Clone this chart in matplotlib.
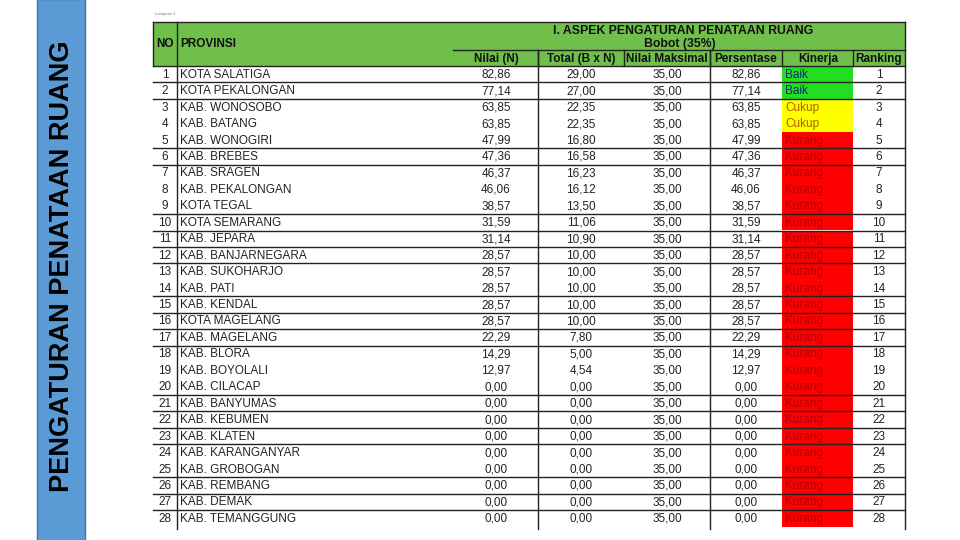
import matplotlib.pyplot as plt
from matplotlib.patches import Rectangle

plt.rcParams['font.family'] = ['Liberation Sans', 'DejaVu Sans']

provinsi = ['KOTA SALATIGA', 'KOTA PEKALONGAN', 'KAB. WONOSOBO', 'KAB. BATANG',
            'KAB. WONOGIRI', 'KAB. BREBES', 'KAB. SRAGEN', 'KAB. PEKALONGAN',
            'KOTA TEGAL', 'KOTA SEMARANG', 'KAB. JEPARA', 'KAB. BANJARNEGARA',
            'KAB. SUKOHARJO', 'KAB. PATI', 'KAB. KENDAL', 'KOTA MAGELANG',
            'KAB. MAGELANG', 'KAB. BLORA', 'KAB. BOYOLALI', 'KAB. CILACAP',
            'KAB. BANYUMAS', 'KAB. KEBUMEN', 'KAB. KLATEN', 'KAB. KARANGANYAR',
            'KAB. GROBOGAN', 'KAB. REMBANG', 'KAB. DEMAK', 'KAB. TEMANGGUNG']
nilai = [82.86, 77.14, 63.85, 63.85, 47.99, 47.36, 46.37, 46.06, 38.57, 31.59,
         31.14, 28.57, 28.57, 28.57, 28.57, 28.57, 22.29, 14.29, 12.97, 0, 0, 0,
         0, 0, 0, 0, 0, 0]
total = [29.00, 27.00, 22.35, 22.35, 16.80, 16.58, 16.23, 16.12, 13.50, 11.06,
         10.90, 10.00, 10.00, 10.00, 10.00, 10.00, 7.80, 5.00, 4.54, 0, 0, 0,
         0, 0, 0, 0, 0, 0]
nilai_maks = [35.00] * 28
persentase = nilai
kinerja = ['Baik', 'Baik', 'Cukup', 'Cukup'] + ['Kurang'] * 24
ranking = list(range(1, 29))
sub_headers = ['Nilai (N)', 'Total (B x N)', 'Nilai Maksimal', 'Persentase', 'Kinerja', 'Ranking']
# rows followed by a border line
line_after = [1, 2, 5, 6, 9, 10, 11, 12, 14, 15, 16, 17, 20, 21, 22, 23, 25, 26, 27]

kin_fill = {'Baik': '#22dd22', 'Cukup': '#ffff00', 'Kurang': '#ff0000'}
kin_text = {'Baik': '#1a237e', 'Cukup': '#b05a00', 'Kurang': '#b00000'}


def fmt(v):
    return f'{v:.2f}'.replace('.', ',')


fig = plt.figure(figsize=(9.6, 5.4), dpi=100)
ax = fig.add_axes([0, 0, 1, 1])
ax.set_xlim(0, 960)
ax.set_ylim(540, 0)
ax.axis('off')

# side strip
ax.add_patch(Rectangle((37, -1), 48, 542, facecolor='#5b9bd5', edgecolor='#41719c', lw=1))
ax.text(62, 266, 'PENGATURAN PENATAAN RUANG', rotation=90, ha='center', va='center',
        fontsize=19.5, fontweight='bold', color='black')

ax.text(155, 14, 'Lampiran 1', ha='left', va='center', fontsize=3, color='#777')

left, right = 153, 905
cols = [177, 453, 538, 624, 710, 782, 853]
top, mid, hbot = 22, 50, 66
row_h = 16.45
fs = 8.5

# header
ax.add_patch(Rectangle((left, top), right - left, hbot - top, facecolor='#6fbf4a', edgecolor='none'))
ax.plot([left, right], [top, top], color='#222', lw=1)
ax.plot([left, left], [top, hbot], color='#222', lw=1)
ax.plot([cols[1], right], [mid, mid], color='#222', lw=1)
for x in cols[2:]:
    ax.plot([x, x], [mid, hbot], color='#222', lw=1)
ax.text(165, 44, 'NO', ha='center', va='center', fontsize=fs, fontweight='bold', color='#111')
ax.text(180, 44, 'PROVINSI', ha='left', va='center', fontsize=fs, fontweight='bold', color='#111')
ax.text(683, 31, 'I. ASPEK PENGATURAN PENATAAN RUANG', ha='center', va='center',
        fontsize=8.8, fontweight='bold', color='#111')
ax.text(680, 44, 'Bobot (35%)', ha='center', va='center', fontsize=8.8, fontweight='bold', color='#111')
centers = [496, 581, 667, 746, 818, 879]
for cx, h in zip(centers, sub_headers):
    ax.text(cx, 59, h, ha='center', va='center', fontsize=fs, fontweight='bold', color='#111')

# body
for i in range(28):
    y0 = hbot + i * row_h
    yc = y0 + row_h / 2 + 0.5
    k = kinerja[i]
    ax.add_patch(Rectangle((cols[5], y0), cols[6] - cols[5], row_h, facecolor=kin_fill[k], edgecolor='none'))
    ax.text(165, yc, str(i + 1), ha='center', va='center', fontsize=fs, color='#222')
    ax.text(180, yc, provinsi[i], ha='left', va='center', fontsize=fs, color='#222')
    ax.text(centers[0], yc, fmt(nilai[i]), ha='center', va='center', fontsize=fs, color='#222')
    ax.text(centers[1], yc, fmt(total[i]), ha='center', va='center', fontsize=fs, color='#222')
    ax.text(centers[2], yc, fmt(nilai_maks[i]), ha='center', va='center', fontsize=fs, color='#222')
    ax.text(centers[3], yc, fmt(persentase[i]), ha='center', va='center', fontsize=fs, color='#222')
    ax.text(785, yc, k, ha='left', va='center', fontsize=fs, color=kin_text[k])
    ax.text(centers[5], yc, str(ranking[i]), ha='center', va='center', fontsize=fs, color='#222')

bottom = hbot + 28 * row_h
for r in [0] + line_after:
    y = hbot + r * row_h
    ax.plot([left, right], [y, y], color='#222', lw=1)
ax.plot([cols[0], cols[0]], [top, bottom + 2], color='#222', lw=1)
for x in [cols[2], cols[4], right]:
    ax.plot([x, x], [mid if x != right else top, bottom + 2], color='#222', lw=1)

fig.savefig('out.png', dpi=100)
